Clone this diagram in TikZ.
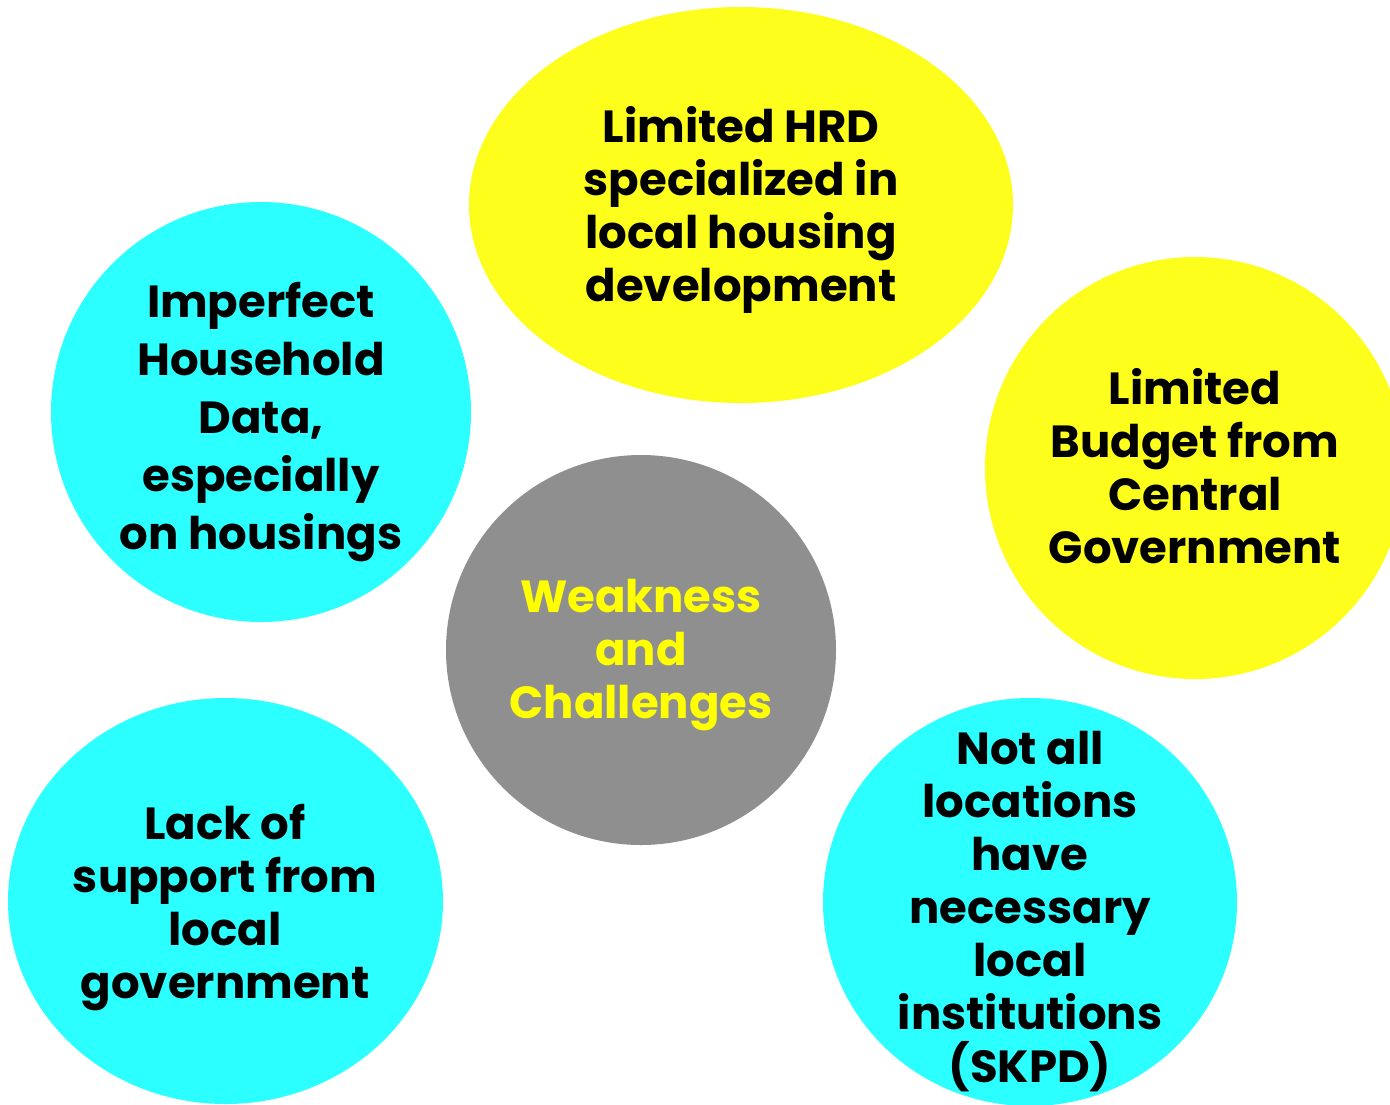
\documentclass[tikz,border=0pt]{standalone}
\usepackage{fontspec}
\setmainfont{Poppins}
\usetikzlibrary{shapes.geometric}
\definecolor{yel}{HTML}{FEFE1C}
\definecolor{cya}{HTML}{2CFFFF}
\definecolor{gra}{HTML}{8F8F8F}
\definecolor{ytext}{HTML}{FFFF00}
\tikzset{
  blob/.style={ellipse, inner sep=0pt, draw=none},
  lbl/.style={align=center, anchor=base, inner sep=0pt, font=\bfseries\fontsize{45}{53}\selectfont},
}
\begin{document}
\begin{tikzpicture}[x=1pt,y=-1pt]
\useasboundingbox (0,0) rectangle (1390,1104);
\fill[white] (0,0) rectangle (1390,1104);
\begin{scope}
\clip (0,0) rectangle (1390,1104);
\node[blob, fill=yel, minimum width=544, minimum height=396] (top) at (741,205) {};
\node[blob, fill=cya, minimum width=420, minimum height=420] (left) at (261,412) {};
\node[blob, fill=yel, minimum width=420, minimum height=422] (right) at (1195,468) {};
\node[blob, fill=gra, minimum width=390, minimum height=390] (mid) at (641,650) {};
\node[blob, fill=cya, minimum width=435, minimum height=406] (bl) at (225.5,901) {};
\node[blob, fill=cya, minimum width=414, minimum height=408] (br) at (1030,902) {};
\end{scope}
\node[lbl] (ttop) at (741,301) {Limited HRD\\specialized in\\local housing\\development};
\node[lbl, font=\bfseries\fontsize{45}{58}\selectfont] (tleft) at (261,549) {Imperfect\\Household\\Data,\\especially\\on housings};
\node[lbl] (tright) at (1195,563) {Limited\\Budget from\\Central\\Government};
\node[lbl, text=ytext] (tmid) at (641,718) {Weakness\\and\\Challenges};
\node[lbl] (tbl) at (225,998) {Lack of\\support from\\local\\government};
\node[lbl] (tbr) at (1030,1082) {Not all\\locations\\have\\necessary\\local\\institutions\\(SKPD)};
\end{tikzpicture}
\end{document}
